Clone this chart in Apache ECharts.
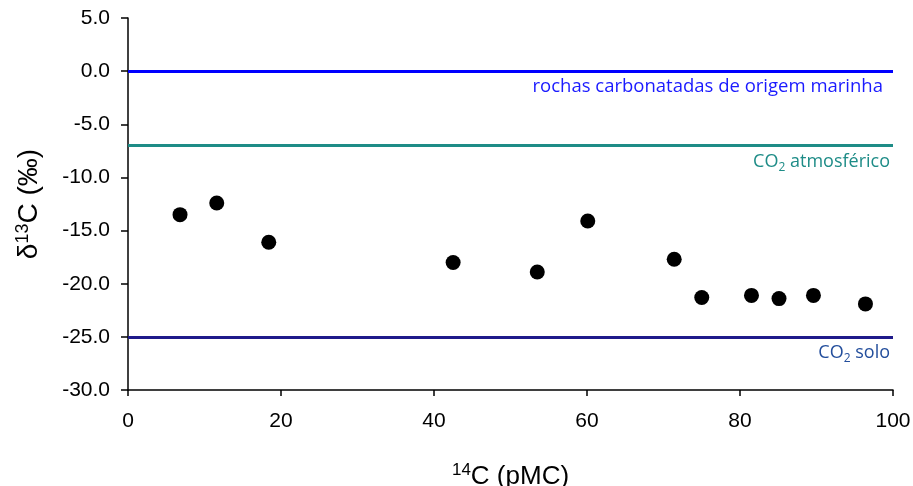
<!DOCTYPE html>
<html><head><meta charset="utf-8">
<script src="https://cdn.jsdelivr.net/npm/echarts@6/dist/echarts.min.js"></script>
<style>html,body{margin:0;padding:0;background:#fff}#c{width:913px;height:486px}</style>
</head><body><div id="c"></div>
<script>
const c14 = [6.8, 11.6, 18.4, 42.5, 53.5, 60.1, 71.4, 75.0, 81.5, 85.1, 89.6, 96.4];
const d13 = [-13.5, -12.4, -16.1, -18.0, -18.9, -14.1, -17.7, -21.3, -21.1, -21.4, -21.1, -21.9];
const refValues = [0, -7, -25];
const refLabels = ['{a|rochas carbonatadas de origem marinha}', '{a|CO}{s|2}{a| atmosférico}', '{a|CO}{s|2}{a| solo}'];
const refColors = ['#0000FF', '#1E8C87', '#1F1A8A'];
const refTextColors = ['#1A1AFF', '#1E8C87', '#234E9C'];

const chart = echarts.init(document.getElementById('c'));
const axisFont = {fontFamily: 'Liberation Sans', fontSize: 21, color: '#000'};
chart.setOption({
  animation: false,
  grid: {left: 128, right: 20, top: 18, bottom: 96, containLabel: false, outerBoundsMode: 'none'},
  xAxis: {
    type: 'value', min: 0, max: 100, interval: 20,
    axisLine: {onZero: false, lineStyle: {color: '#000', width: 1.5}},
    axisTick: {inside: false, length: 6, lineStyle: {color: '#000', width: 1.5}},
    axisLabel: Object.assign({margin: 21}, axisFont),
    splitLine: {show: false},
    name: '{sup|14}{n|C (pMC)}', nameLocation: 'middle', nameGap: 72,
    nameTextStyle: {rich: {
      sup: {fontFamily: 'Liberation Sans', fontSize: 17, color: '#000', padding: [0, 0, 12, 0]},
      n: {fontFamily: 'Liberation Sans', fontSize: 26, color: '#000'}
    }}
  },
  yAxis: {
    type: 'value', min: -30, max: 5, interval: 5,
    axisLine: {onZero: false, lineStyle: {color: '#000', width: 1.5}},
    axisTick: {inside: false, length: 7, lineStyle: {color: '#000', width: 1.5}},
    axisLabel: Object.assign({margin: 18, formatter: v => v.toFixed(1)}, axisFont),
    splitLine: {show: false},
    name: '{n|δ}{sup|13}{n|C (‰)}', nameLocation: 'middle', nameGap: 84,
    nameTextStyle: {rich: {
      sup: {fontFamily: 'Liberation Sans', fontSize: 18, color: '#000', padding: [0, 0, 12, 0]},
      n: {fontFamily: 'Liberation Sans', fontSize: 28, color: '#000'}
    }}
  },
  series: [{
    type: 'scatter',
    data: c14.map((x, i) => [x, d13[i]]),
    symbolSize: 15,
    itemStyle: {color: '#000', opacity: 1},
    markLine: {
      silent: true, symbol: 'none', animation: false,
      data: refValues.map((v, i) => ({
        yAxis: v,
        lineStyle: {color: refColors[i], width: 3, type: 'solid'},
        label: {
          show: true, position: 'insideEndBottom', distance: [i === 0 ? 10 : 3, i === 0 ? 6 : 4],
          formatter: refLabels[i],
          rich: {
            a: {fontFamily: 'Open Sans', fontSize: i === 0 ? 18.5 : 18, color: refTextColors[i]},
            s: {fontFamily: 'Open Sans', fontSize: 12, color: refTextColors[i], padding: [12, 0, 0, 0]}
          }
        }
      }))
    }
  }]
});
</script></body></html>
